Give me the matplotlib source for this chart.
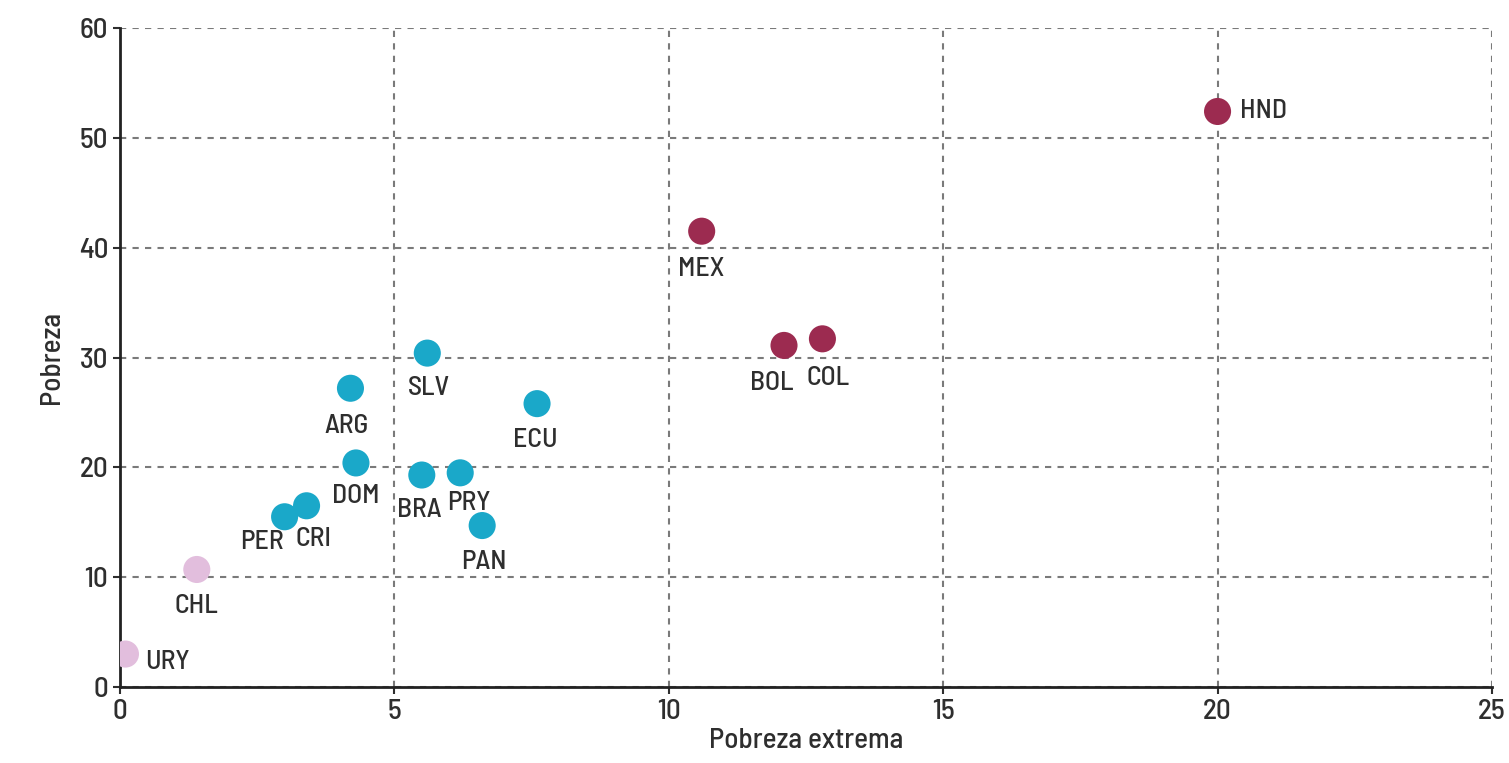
import matplotlib.pyplot as plt

plt.rcParams['font.family'] = ['Barlow Semi Condensed', 'Roboto Condensed', 'DejaVu Sans']

# datos
paises = ['HND', 'MEX', 'BOL', 'COL', 'SLV', 'ARG', 'ECU', 'DOM', 'BRA', 'PRY',
          'PAN', 'CRI', 'PER', 'CHL', 'URY']
pobreza_extrema = [20.0, 10.6, 12.1, 12.8, 5.6, 4.2, 7.6, 4.3, 5.5, 6.2,
                   6.6, 3.4, 3.0, 1.4, 0.1]
pobreza = [52.4, 41.5, 31.1, 31.7, 30.4, 27.2, 25.8, 20.4, 19.3, 19.5,
           14.7, 16.5, 15.5, 10.7, 3.0]
grupo = [0, 0, 0, 0, 1, 1, 1, 1, 1, 1, 1, 1, 1, 2, 2]
colores = ['#9c2b50', '#1aa8c9', '#e2bedd']

# desplazamiento de etiquetas en puntos (dx, dy, ha)
offs = {
    'HND': (16, 0, 'left'),
    'MEX': (0, -27, 'center'),
    'BOL': (-9, -27, 'center'),
    'COL': (4, -28, 'center'),
    'SLV': (1, -25, 'center'),
    'ARG': (-3, -27, 'center'),
    'ECU': (-1, -26, 'center'),
    'DOM': (0, -24, 'center'),
    'BRA': (-2, -25, 'center'),
    'PRY': (6, -22, 'center'),
    'PAN': (1, -26, 'center'),
    'CRI': (5, -24, 'center'),
    'PER': (-16, -18, 'center'),
    'CHL': (0, -26, 'center'),
    'URY': (14, -6, 'left'),
}

fig = plt.figure(figsize=(15.09, 7.63), dpi=100)
ax = fig.add_axes([0.0795, 0.0996, 0.9092, 0.8637])

ax.scatter(pobreza_extrema, pobreza, s=380,
           c=[colores[g] for g in grupo], zorder=3, linewidths=0)

for p, x, y in zip(paises, pobreza_extrema, pobreza):
    dx, dy, ha = offs[p]
    ax.annotate(p, (x, y), xytext=(dx, dy), textcoords='offset points',
                ha=ha, va='center', fontsize=20, color='#2e2e2e',
                fontweight='medium')

ax.set_xlim(0, 25)
ax.set_ylim(0, 60)
ax.set_xticks([0, 5, 10, 15, 20, 25])
ax.set_yticks([0, 10, 20, 30, 40, 50, 60])
ax.grid(True, linestyle=(0, (3, 3)), color='#7a7a7a', linewidth=1.5)
ax.set_axisbelow(True)
for s in ['top', 'right']:
    ax.spines[s].set_visible(False)
for s in ['left', 'bottom']:
    ax.spines[s].set_linewidth(2)
    ax.spines[s].set_color('#222222')
ax.tick_params(labelsize=21, colors='#2e2e2e', length=5, width=1.5)
for lbl in ax.get_xticklabels() + ax.get_yticklabels():
    lbl.set_fontweight('medium')
ax.set_xlabel('Pobreza extrema', fontsize=21, color='#2e2e2e', labelpad=2,
              fontweight='medium')
ax.set_ylabel('Pobreza', fontsize=21, color='#2e2e2e', labelpad=10,
              fontweight='medium')

fig.savefig('out.png', dpi=100)
